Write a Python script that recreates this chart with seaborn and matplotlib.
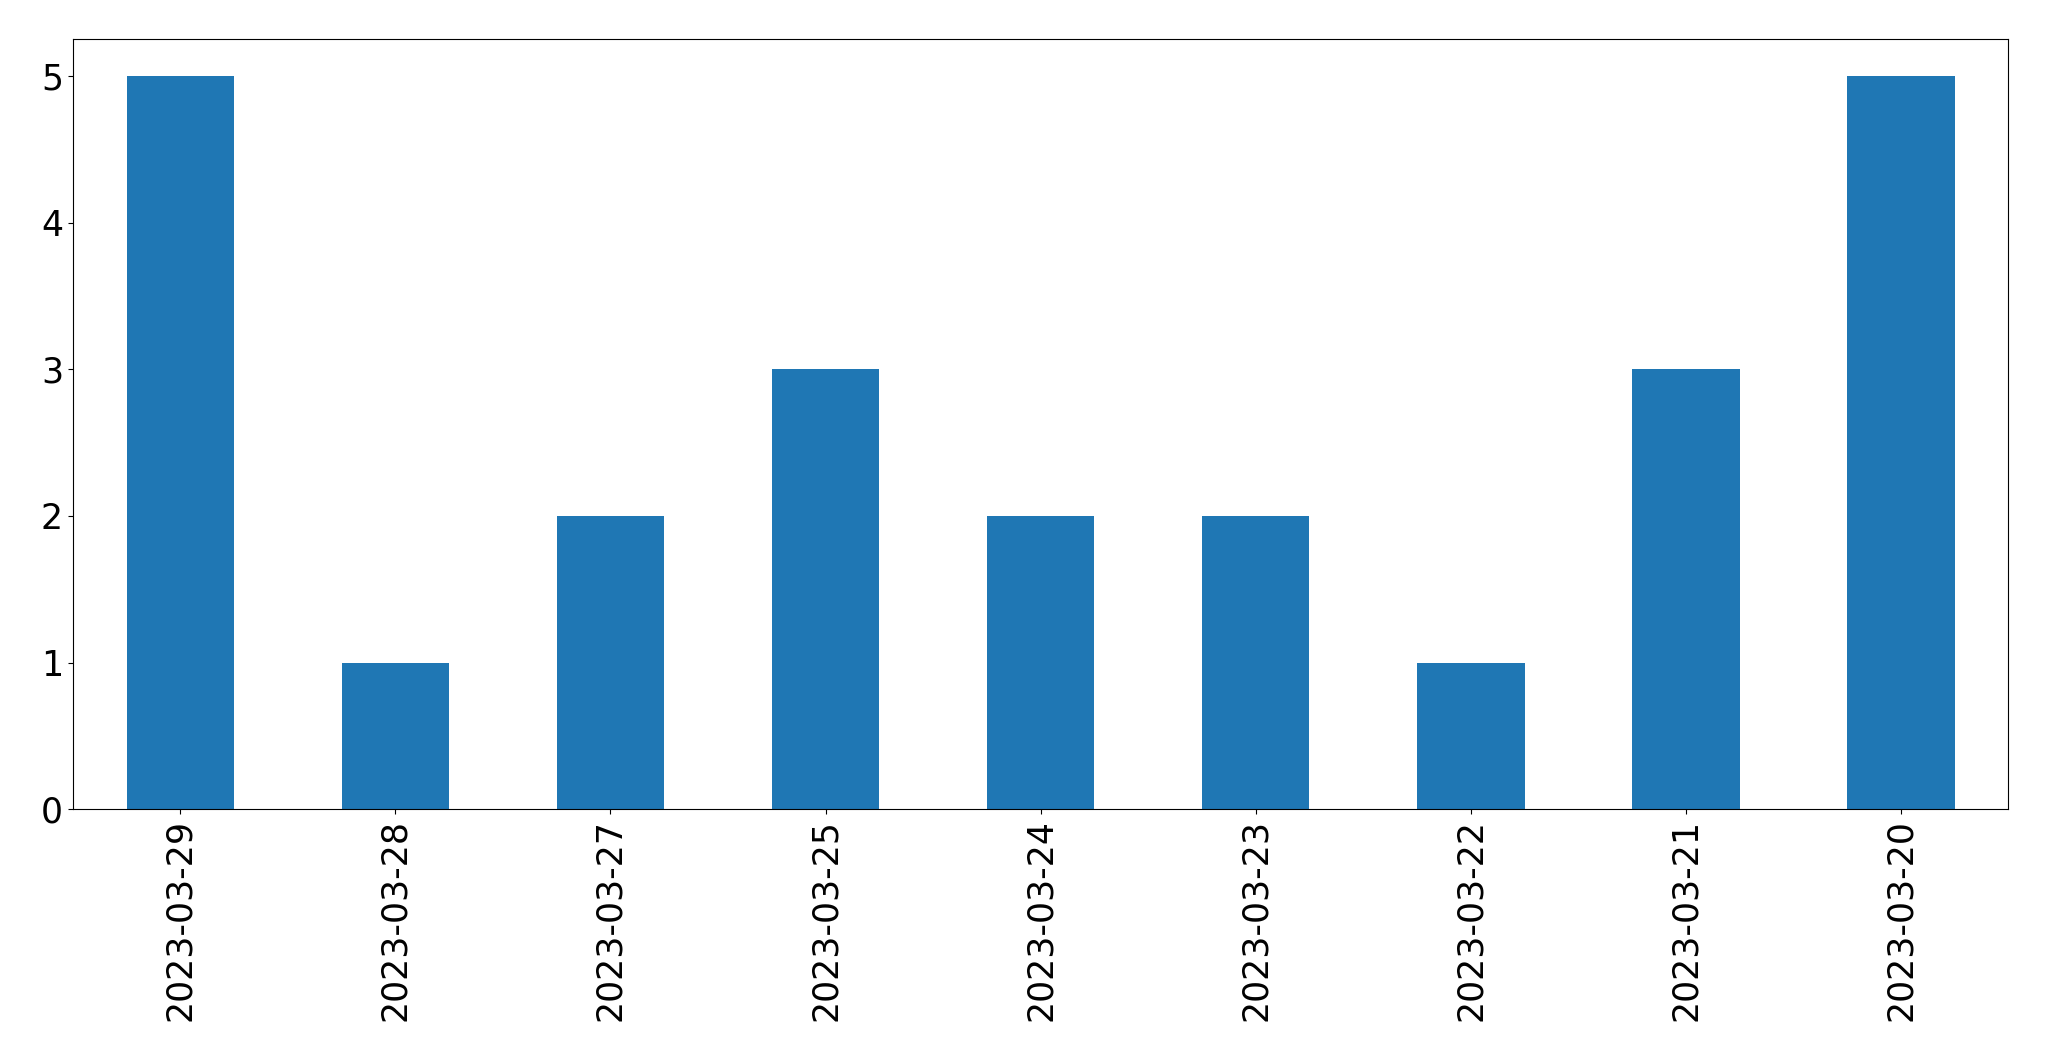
import matplotlib
matplotlib.use("Agg")
import matplotlib.pyplot as plt
import seaborn as sns
import pandas as pd

dates = ["2023-03-29", "2023-03-28", "2023-03-27", "2023-03-25", "2023-03-24",
         "2023-03-23", "2023-03-22", "2023-03-21", "2023-03-20"]
counts = [5, 1, 2, 3, 2, 2, 1, 3, 5]

df = pd.DataFrame({"date": dates, "count": counts})

fig = plt.figure(figsize=(20.49, 10.61), dpi=100)
ax = fig.add_axes([0.0355, 0.2373, 0.9447, 0.7257])
sns.barplot(data=df, x="date", y="count", order=dates, color="#1f77b4",
            saturation=1, width=0.5, ax=ax, edgecolor="none", linewidth=0)
ax.set_xlim(-0.5, len(dates) - 0.5)
ax.set_ylim(0, 5.25)
ax.set_xlabel("")
ax.set_ylabel("")
ax.tick_params(axis="both", labelsize=25)
plt.setp(ax.get_xticklabels(), rotation=90)
fig.savefig("out.png", dpi=100)
